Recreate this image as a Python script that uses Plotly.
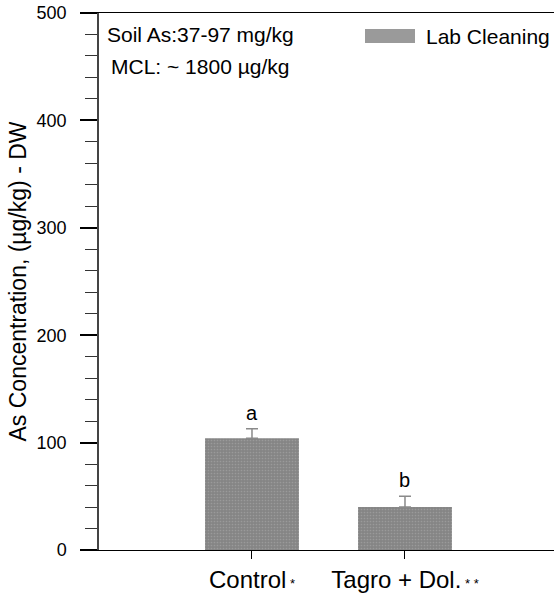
import plotly.graph_objects as go

# ---- data ----
categories = ["Control", "Tagro + Dol."]
tick_labels = [
    "Control<span style='font-size:13px'> *</span>",
    "Tagro + Dol.<span style='font-size:13px'> * *</span>",
]
values = [104, 40]
errors_plus = [9, 10]
letters = ["a", "b"]
series_name = "Lab Cleaning"
y_ticks = [0, 100, 200, 300, 400, 500]

W, H = 554, 602
L, R, T, B = 99, 0, 13, 52
pw, ph = W - L - R, H - T - B

def px(x):
    return (x - L) / pw

def py(y):
    return (H - B - y) / ph

FONT = "Liberation Sans, Arial, sans-serif"

fig = go.Figure()
fig.add_trace(go.Bar(
    x=categories, y=values, name=series_name, showlegend=False,
    marker=dict(color="#8a8a8a", line=dict(width=0),
                pattern=dict(shape=".", fgcolor="#b0b0b0", bgcolor="#858585",
                             size=3, solidity=0.25)),
    error_y=dict(type="data", symmetric=False, array=errors_plus,
                 arrayminus=[0] * len(values), color="#8a8a8a",
                 thickness=1.5, width=6),
))

annotations = []
for c, v, e, t in zip(categories, values, errors_plus, letters):
    annotations.append(dict(x=c, y=v + e, xref="x", yref="y", text=t,
                            showarrow=False, yanchor="bottom", yshift=3,
                            font=dict(size=20, color="black", family=FONT)))

annotations += [
    dict(x=px(105), y=py(21), xref="paper", yref="paper", xanchor="left",
         yanchor="top", text="Soil As:37-97 mg/kg", showarrow=False,
         font=dict(size=21, color="black", family=FONT)),
    dict(x=px(109), y=py(53), xref="paper", yref="paper", xanchor="left",
         yanchor="top", text="MCL: ~ 1800 µg/kg", showarrow=False,
         font=dict(size=21, color="black", family=FONT)),
    dict(x=px(424), y=py(23), xref="paper", yref="paper", xanchor="left",
         yanchor="top", text=series_name, showarrow=False,
         font=dict(size=21, color="black", family=FONT)),
]

shapes = [
    dict(type="rect", xref="paper", yref="paper",
         x0=px(365), x1=px(415), y0=py(43), y1=py(29),
         fillcolor="#9a9a9a", line=dict(width=0)),
]

fig.update_layout(
    width=W, height=H,
    margin=dict(l=L, r=R, t=T, b=B, pad=0),
    paper_bgcolor="white", plot_bgcolor="white",
    font=dict(family=FONT, color="black"),
    bargap=0.386,
    annotations=annotations,
    shapes=shapes,
    xaxis=dict(
        type="category", range=[-1, 1.974],
        tickvals=categories, ticktext=tick_labels,
        ticks="outside", ticklen=8, tickwidth=1, tickcolor="black",
        showline=True, linecolor="black", linewidth=1, mirror=True,
        showgrid=False, zeroline=False,
        tickfont=dict(size=24, family=FONT, color="black"),
    ),
    yaxis=dict(
        range=[0, 500], tickvals=y_ticks,
        ticks="outside", ticklen=17, tickwidth=2, tickcolor="black",
        ticklabelstandoff=10,
        minor=dict(dtick=20, ticks="outside", ticklen=12, tickwidth=1,
                   tickcolor="#333333", showgrid=False),
        showline=True, linecolor="#444444", linewidth=1.5, mirror=False,
        showgrid=False, zeroline=False,
        tickfont=dict(size=18, family=FONT, color="black"),
        title=dict(text="As Concentration, (µg/kg) - DW",
                   font=dict(size=23, family=FONT, color="black"),
                   standoff=4),
    ),
)

fig.write_html("out.html")
